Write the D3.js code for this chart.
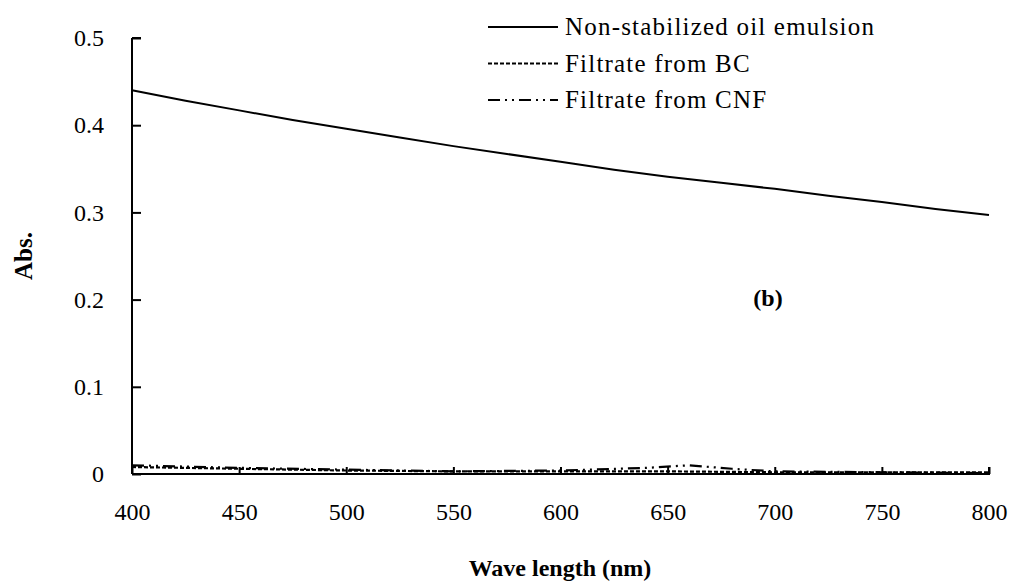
<!DOCTYPE html>
<html>
<head>
<meta charset="utf-8">
<script src="https://cdn.jsdelivr.net/npm/d3@7"></script>
<style>
    body { margin: 0; background: #fff; }
    text { font-family: "Liberation Serif", "DejaVu Serif", serif; fill: #000; }
</style>
</head>
<body>
<div id="chart"></div>
<script>
// Wavelength (nm) and absorbance
var waveMain = [400, 425, 450, 475, 500, 525, 550, 575, 600, 625, 650, 675, 700, 725, 750, 775, 800];
var absMain  = [0.440, 0.428, 0.417, 0.406, 0.396, 0.386, 0.376, 0.367, 0.358, 0.349, 0.341, 0.334, 0.327, 0.319, 0.312, 0.304, 0.297];

var waveBC = [400, 450, 500, 550, 600, 650, 700, 750, 800];
var absBC  = [0.008, 0.006, 0.004, 0.003, 0.003, 0.003, 0.002, 0.002, 0.002];

var waveCNF = [400, 450, 500, 550, 600, 640, 660, 680, 700, 750, 800];
var absCNF  = [0.010, 0.007, 0.005, 0.003, 0.004, 0.007, 0.010, 0.006, 0.003, 0.002, 0.001];

var seriesNames = ["Non-stabilized oil emulsion", "Filtrate from BC", "Filtrate from CNF"];
var seriesDash = [null, "4,2", "12,5,2,5,2,5"];

var xTicks = [400, 450, 500, 550, 600, 650, 700, 750, 800];
var yTicks = [0, 0.1, 0.2, 0.3, 0.4, 0.5];

function init() {
    var w = 1011;
    var h = 588;

    var svg = d3.select("#chart")
        .append("svg")
        .attr("width", w)
        .attr("height", h);

    var xScale = d3.scaleLinear()
        .domain([400, 800])
        .range([132, 989]);

    var yScale = d3.scaleLinear()
        .domain([0, 0.5])
        .range([474, 38]);

    var line = d3.line()
        .x(function(d) { return xScale(d[0]); })
        .y(function(d) { return yScale(d[1]); });

    var series = [d3.zip(waveMain, absMain), d3.zip(waveBC, absBC), d3.zip(waveCNF, absCNF)];

    // lines
    series.forEach(function(s, i) {
        svg.append("path")
            .datum(s)
            .attr("d", line)
            .attr("fill", "none")
            .attr("stroke", "#000")
            .attr("stroke-width", i == 0 ? 2 : 2.2)
            .attr("stroke-dasharray", seriesDash[i]);
    });

    // axes, ticks pointing inward
    var xAxis = d3.axisBottom(xScale)
        .tickValues(xTicks)
        .tickSize(-7)
        .tickPadding(29)
        .tickFormat(d3.format("d"));

    var yAxis = d3.axisLeft(yScale)
        .tickValues(yTicks)
        .tickSize(-9)
        .tickPadding(28)
        .tickFormat(function(d) { return d == 0 ? "0" : d3.format(".1f")(d); });

    var gx = svg.append("g")
        .attr("transform", "translate(0," + yScale(0) + ")")
        .call(xAxis);

    var gy = svg.append("g")
        .attr("transform", "translate(" + xScale(400) + ",0)")
        .call(yAxis);

    [gx, gy].forEach(function(g) {
        g.select(".domain").attr("stroke", "#000").attr("stroke-width", 2);
        g.selectAll(".tick line").attr("stroke", "#000").attr("stroke-width", 2);
        g.selectAll(".tick text")
            .style("font-size", "24px")
            .style("font-family", "\"Liberation Serif\", serif")
            .attr("fill", "#000");
    });
    gy.select(".domain").attr("d", "M0," + yScale(0.5) + "H9M0," + yScale(0.5) + "V" + yScale(0));
    gx.select(".domain").attr("d", "M" + xScale(400) + ",0H" + xScale(800) + "V-7");

    // axis titles
    svg.append("text")
        .attr("x", 560)
        .attr("y", 576)
        .attr("text-anchor", "middle")
        .style("font-size", "24px")
        .style("font-weight", "bold")
        .text("Wave length (nm)");

    svg.append("text")
        .attr("transform", "translate(32,256) rotate(-90)")
        .attr("text-anchor", "middle")
        .style("font-size", "25px")
        .style("font-weight", "bold")
        .text("Abs.");

    // panel label
    svg.append("text")
        .attr("x", 768)
        .attr("y", 306)
        .attr("text-anchor", "middle")
        .style("font-size", "24px")
        .style("font-weight", "bold")
        .text("(b)");

    // legend
    var legend = svg.append("g");
    seriesNames.forEach(function(name, i) {
        var y = 27 + i * 36.5;
        legend.append("line")
            .attr("x1", 488)
            .attr("x2", 558)
            .attr("y1", y)
            .attr("y2", y)
            .attr("stroke", "#000")
            .attr("stroke-width", i == 0 ? 2 : 2.2)
            .attr("stroke-dasharray", seriesDash[i]);
        legend.append("text")
            .attr("x", 565)
            .attr("y", y + 8)
            .style("font-size", "25px")
            .style("letter-spacing", "1.2px")
            .text(name);
    });
}

window.onload = init;
</script>
</body>
</html>
